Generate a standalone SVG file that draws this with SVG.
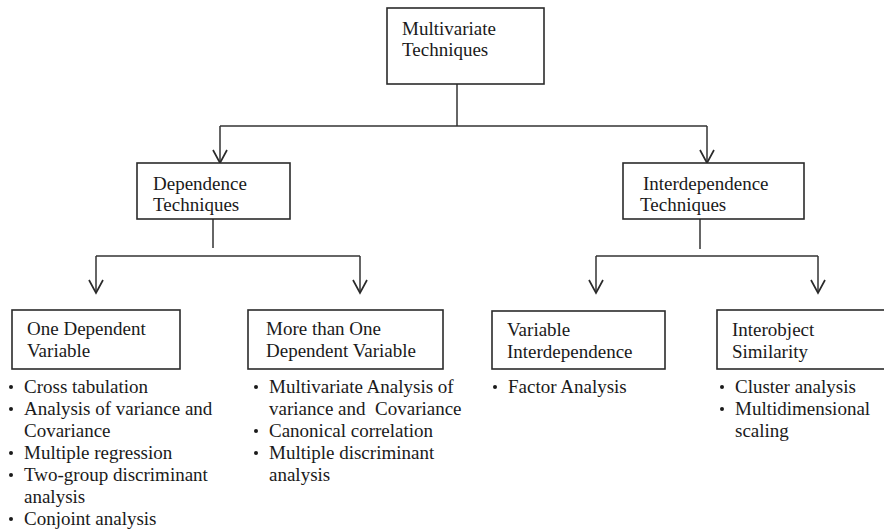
<svg xmlns="http://www.w3.org/2000/svg" width="884" height="532" viewBox="0 0 884 532">
<style>
.box{fill:#fff;stroke:#2b2b2b;stroke-width:1.6}
.t{font-family:"Liberation Serif","Times New Roman",serif;font-size:19px;fill:#1a1a1a}
.ln{fill:none;stroke:#333;stroke-width:1.5}
.b{fill:#1a1a1a}
</style>
<defs>
<marker id="arr" viewBox="-15 -8 17 16" refX="0" refY="0" markerWidth="17" markerHeight="16" orient="auto" markerUnits="userSpaceOnUse">
<path d="M-13,-7 L0,0 L-13,7" fill="none" stroke="#2a2a2a" stroke-width="1.7"/>
</marker>
</defs>
<rect width="884" height="532" fill="#fff"/>
<g id="connectors">
<path class="ln" d="M457,84 V126"/>
<path class="ln" d="M220,126 H707"/>
<path class="ln" d="M220,126 V163" marker-end="url(#arr)"/>
<path class="ln" d="M707,126 V163" marker-end="url(#arr)"/>
<path class="ln" d="M213,219 V248"/>
<path class="ln" d="M96,256 H360"/>
<path class="ln" d="M96,256 V293" marker-end="url(#arr)"/>
<path class="ln" d="M360,256 V293" marker-end="url(#arr)"/>
<path class="ln" d="M700,219 V249"/>
<path class="ln" d="M596,256 H818"/>
<path class="ln" d="M596,256 V293" marker-end="url(#arr)"/>
<path class="ln" d="M818,256 V293" marker-end="url(#arr)"/>
</g>
<g id="multivariate">
<rect class="box" x="387" y="8" width="157" height="76"/>
<text class="t" x="402" y="35">Multivariate</text>
<text class="t" x="402" y="56">Techniques</text>
</g>
<g id="dependence">
<rect class="box" x="137" y="163" width="153" height="56"/>
<text class="t" x="153" y="190">Dependence</text>
<text class="t" x="153" y="211">Techniques</text>
</g>
<g id="interdependence">
<rect class="box" x="623" y="163" width="181" height="56"/>
<text class="t" x="643" y="190">Interdependence</text>
<text class="t" x="640" y="211">Techniques</text>
</g>
<g id="one-dependent">
<rect class="box" x="12" y="310" width="168" height="59"/>
<text class="t" x="27" y="335">One Dependent</text>
<text class="t" x="27" y="357">Variable</text>
<circle class="b" cx="11" cy="387" r="2"/>
<text class="t" x="24" y="393">Cross tabulation</text>
<circle class="b" cx="11" cy="409" r="2"/>
<text class="t" x="24" y="415">Analysis of variance and</text>
<text class="t" x="24" y="437">Covariance</text>
<circle class="b" cx="11" cy="453" r="2"/>
<text class="t" x="24" y="459">Multiple regression</text>
<circle class="b" cx="11" cy="475" r="2"/>
<text class="t" x="24" y="481">Two-group discriminant</text>
<text class="t" x="24" y="503">analysis</text>
<circle class="b" cx="11" cy="519" r="2"/>
<text class="t" x="24" y="525">Conjoint analysis</text>
</g>
<g id="more-than-one">
<rect class="box" x="248" y="310" width="195" height="59"/>
<text class="t" x="266" y="335">More than One</text>
<text class="t" x="266" y="357">Dependent Variable</text>
<circle class="b" cx="256" cy="387" r="2"/>
<text class="t" x="269" y="393">Multivariate Analysis of</text>
<text class="t" x="269" y="415" xml:space="preserve">variance and  Covariance</text>
<circle class="b" cx="256" cy="431" r="2"/>
<text class="t" x="269" y="437">Canonical correlation</text>
<circle class="b" cx="256" cy="453" r="2"/>
<text class="t" x="269" y="459">Multiple discriminant</text>
<text class="t" x="269" y="481">analysis</text>
</g>
<g id="variable-interdependence">
<rect class="box" x="492" y="311" width="173" height="58"/>
<text class="t" x="507" y="336">Variable</text>
<text class="t" x="507" y="358">Interdependence</text>
<circle class="b" cx="495" cy="387" r="2"/>
<text class="t" x="508" y="393">Factor Analysis</text>
</g>
<g id="interobject-similarity">
<rect class="box" x="717" y="310" width="180" height="59"/>
<text class="t" x="732" y="336">Interobject</text>
<text class="t" x="732" y="358">Similarity</text>
<circle class="b" cx="722" cy="387" r="2"/>
<text class="t" x="735" y="393">Cluster analysis</text>
<circle class="b" cx="722" cy="409" r="2"/>
<text class="t" x="735" y="415">Multidimensional</text>
<text class="t" x="735" y="437">scaling</text>
</g>
</svg>
